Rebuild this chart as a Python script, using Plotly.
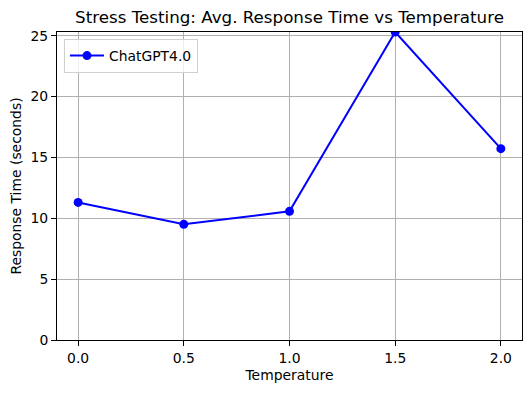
import plotly.graph_objects as go

temperature = [0.0, 0.5, 1.0, 1.5, 2.0]
response_time = [11.3, 9.5, 10.57, 25.3, 15.72]
series_name = "ChatGPT4.0"
x_ticks = [0.0, 0.5, 1.0, 1.5, 2.0]
x_tick_labels = ["0.0", "0.5", "1.0", "1.5", "2.0"]
y_ticks = [0, 5, 10, 15, 20, 25]

FONT = "DejaVu Sans"
TICK = 13.9

fig = go.Figure()
fig.add_trace(go.Scatter(
    x=temperature, y=response_time, mode="lines+markers", name=series_name,
    line=dict(color="#0000ff", width=2),
    marker=dict(color="#0000ff", size=9),
))

axis_common = dict(
    showline=True, linecolor="black", linewidth=1, mirror=True,
    ticks="outside", ticklen=5, tickcolor="black", tickwidth=1,
    showgrid=True, gridcolor="#b0b0b0", gridwidth=1, zeroline=False,
    tickfont=dict(family=FONT, size=TICK, color="black"),
    automargin=False,
)

# page body has an 8px margin; figure is sized so plot area lands where the reference has it
W, H = 523, 385
L, R, T, B = 49, 9, 24, 53

fig.update_layout(
    width=W, height=H,
    margin=dict(l=L, r=R, t=T, b=B),
    paper_bgcolor="white", plot_bgcolor="white",
    font=dict(family=FONT, color="black"),
    title=dict(text="Stress Testing: Avg. Response Time vs Temperature",
               x=(L + (W - R)) / 2 / W, xanchor="center", y=1 - 9 / H, yanchor="middle",
               font=dict(family=FONT, size=16.7, color="black")),
    xaxis=dict(range=[-0.1, 2.1], tickvals=x_ticks, ticktext=x_tick_labels,
               title=dict(text="Temperature", standoff=5, font=dict(family=FONT, size=TICK)),
               **axis_common),
    yaxis=dict(range=[0, 25.3], tickvals=y_ticks,
               title=dict(text="Response Time (seconds)", standoff=8, font=dict(family=FONT, size=TICK)),
               **axis_common),
    legend=dict(x=0.015, y=0.977, xanchor="left", yanchor="top",
                bgcolor="rgba(255,255,255,0.8)", bordercolor="#d0d0d0", borderwidth=1,
                font=dict(family=FONT, size=TICK), itemwidth=34),
    showlegend=True,
)

fig.write_html("out.html")
